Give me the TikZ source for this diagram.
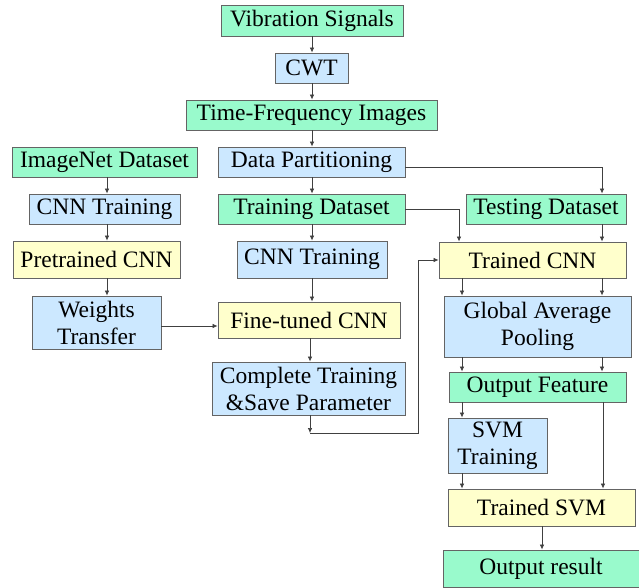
\documentclass[tikz,border=0pt]{standalone}
\usepackage{fontspec}
\setmainfont{Liberation Serif}
\usetikzlibrary{arrows.meta,calc}
\definecolor{boxgreen}{RGB}{153,250,204}
\definecolor{boxblue}{RGB}{204,232,255}
\definecolor{boxyellow}{RGB}{255,255,204}
\definecolor{edgegray}{RGB}{100,100,100}
\tikzset{
  base/.style={draw=edgegray, line width=0.9pt, inner sep=0pt, align=center,
    font=\fontsize{23.5}{27}\selectfont, text=black},
  gbox/.style={base, fill=boxgreen},
  bbox/.style={base, fill=boxblue},
  ybox/.style={base, fill=boxyellow},
  arr/.style={draw=black!75, line width=0.7pt, -{Latex[length=5pt,width=4.5pt]}},
}
\begin{document}
\begin{tikzpicture}[x=1pt,y=-1pt]
\useasboundingbox (0,0) rectangle (639,588);
% main column
\node[gbox, minimum width=182pt, minimum height=31pt] (vs) at (312,20.5) {Vibration Signals};
\node[bbox, minimum width=73pt, minimum height=30pt] (cwt) at (311.5,68) {CWT};
\node[gbox, minimum width=251pt, minimum height=30pt] (tf) at (311.5,115) {Time-Frequency Images};
\node[bbox, minimum width=187pt, minimum height=30pt] (dp) at (311.5,162) {Data Partitioning};
\node[gbox, minimum width=187pt, minimum height=30pt] (trd) at (311.5,209) {Training Dataset};
\node[bbox, minimum width=150pt, minimum height=37pt] (cnnm) at (312,259.5) {CNN Training};
\node[ybox, minimum width=182pt, minimum height=36pt] (ft) at (309,320) {Fine-tuned CNN};
\node[bbox, minimum width=193pt, minimum height=53pt] (cts) at (308.5,388.5) {Complete Training\\\&Save Parameter};
% pretraining column
\node[gbox, minimum width=185pt, minimum height=30pt] (imn) at (104.5,162) {ImageNet Dataset};
\node[bbox, minimum width=151pt, minimum height=30pt] (cnnl) at (104.5,209) {CNN Training};
\node[ybox, minimum width=167pt, minimum height=37pt] (pre) at (96.5,259.5) {Pretrained CNN};
\node[bbox, minimum width=129pt, minimum height=53pt] (wt) at (96.5,322.5) {Weights\\Transfer};
% testing column
\node[gbox, minimum width=160pt, minimum height=30pt] (ted) at (546,209) {Testing Dataset};
\node[ybox, minimum width=187pt, minimum height=36pt] (tcnn) at (532.5,260) {Trained CNN};
\node[bbox, minimum width=187pt, minimum height=61pt] (gap) at (537.5,326.5) {Global Average\\Pooling};
\node[gbox, minimum width=177pt, minimum height=30pt] (of) at (537.5,387) {Output Feature};
\node[bbox, minimum width=99pt, minimum height=55pt] (svm) at (497.5,445.5) {SVM\\Training};
\node[ybox, minimum width=187pt, minimum height=37pt] (tsvm) at (541.5,507.5) {Trained SVM};
\node[gbox, minimum width=196pt, minimum height=37pt] (res) at (541,568.5) {Output result};

% guide coordinates for connector columns
\coordinate (xa) at (312,0);
\coordinate (xl) at (107,0);
\coordinate (xf) at (310,0);
\coordinate (xr) at (602,0);
\coordinate (xq) at (462,0);
\coordinate (xt) at (459,0);
\coordinate (xs) at (542,0);
\coordinate (loopA) at (310,433);
\coordinate (loopB) at (418,433);
\coordinate (loopC) at (418,260);

% main column arrows
\draw[arr] (vs.south -| xa) -- (cwt.north -| xa);
\draw[arr] (cwt.south -| xa) -- (tf.north -| xa);
\draw[arr] (tf.south -| xa) -- (dp.north -| xa);
\draw[arr] (dp.south -| xa) -- (trd.north -| xa);
\draw[arr] (trd.south -| xa) -- (cnnm.north -| xa);
\draw[arr] (cnnm.south -| xa) -- (ft.north -| xa);
\draw[arr] (ft.south -| xf) -- (cts.north -| xf);
\draw[arr] (dp.east |- 0,167) -| (ted.north -| xr);

% pretraining arrows
\draw[arr] (imn.south -| xl) -- (cnnl.north -| xl);
\draw[arr] (cnnl.south -| xl) -- (pre.north -| xl);
\draw[arr] (pre.south -| xl) -- (wt.north -| xl);
\draw[arr] (wt.east |- 0,326) -- (ft.west |- 0,326);

% loop back to the trained network
\draw[arr] (cts.south -| xf) -- (loopA);
\draw[arr] (loopA) -- (loopB) -- (loopC) -- (tcnn.west |- loopC);
\draw[arr] (trd.east |- 0,209) -| (tcnn.north -| xt);
\draw[arr] (ted.south -| xr) -- (tcnn.north -| xr);

% testing column arrows
\draw[arr] (tcnn.south -| xq) -- (gap.north -| xq);
\draw[arr] (tcnn.south -| xr) -- (gap.north -| xr);
\draw[arr] (gap.south -| xq) -- (of.north -| xq);
\draw[arr] (gap.south -| xr) -- (of.north -| xr);
\draw[arr] (of.south -| xq) -- (svm.north -| xq);
\draw[arr] (svm.south -| xq) -- (tsvm.north -| xq);
\draw[arr] (of.south -| 603,0) -- (tsvm.north -| 603,0);
\draw[arr] (tsvm.south -| xs) -- (res.north -| xs);
\end{tikzpicture}
\end{document}
